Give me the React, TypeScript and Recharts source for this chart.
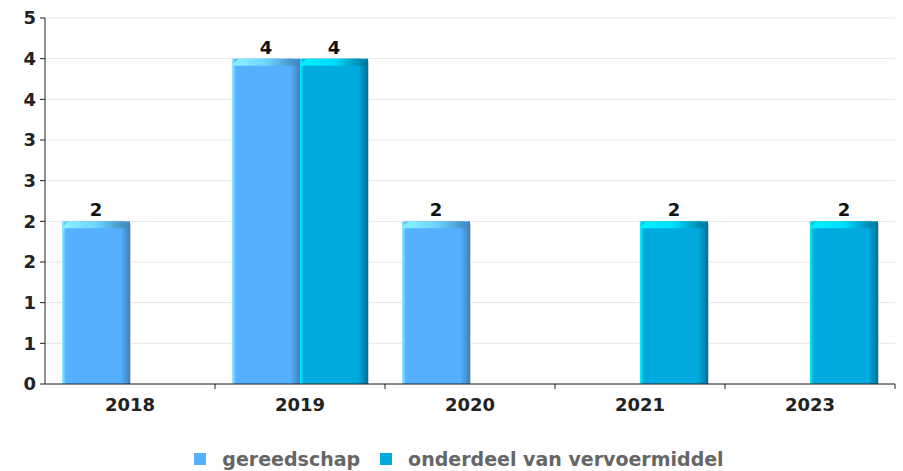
import React from "react";
import {
  BarChart,
  Bar,
  XAxis,
  YAxis,
  CartesianGrid,
  Legend,
  LabelList,
} from "recharts";

const years = ["2018", "2019", "2020", "2021", "2023"];
const gereedschap = [2, 4, 2, null, null];
const onderdeel = [null, 4, null, 2, 2];
const yTicks = [0, 0.5, 1, 1.5, 2, 2.5, 3, 3.5, 4, 4.5];

const data = years.map((year, i) => ({
  year,
  gereedschap: gereedschap[i],
  onderdeel: onderdeel[i],
}));

const FONT = "'DejaVu Sans', sans-serif";

const series = [
  {
    key: "gereedschap",
    name: "gereedschap",
    color: "#55b0ff",
    edge: "#8cf2ff",
    dark: "#3f80b8",
    cap: "#6cd6ff",
  },
  {
    key: "onderdeel",
    name: "onderdeel van vervoermiddel",
    color: "#00aade",
    edge: "#00f2ff",
    dark: "#00709a",
    cap: "#00dcff",
  },
];

// fake 3d bar: horizontal gradient body + bevelled lighter top
const makeShape = (idx: number) => (props: any) => {
  const { x, y, width, height, value } = props;
  if (value == null || !height) return <g />;
  const s = series[idx];
  const c = 5;
  return (
    <g>
      <rect x={x + 1} y={y + 2} width={width} height={height - 2} fill="#cfcfcf" />
      <rect x={x} y={y} width={width} height={height} fill={`url(#grad-${s.key})`} />
      <path
        d={`M${x},${y + c + 2} L${x + c},${y + 1} Q${x + c + 1},${y} ${x + c + 3},${y} L${x + width - c - 3},${y} Q${x + width - c - 1},${y} ${x + width - c},${y + 1} L${x + width},${y + c + 2} Z`}
        fill={`url(#cap-${s.key})`}
      />
    </g>
  );
};

const renderLabel = (props: any) => {
  const { x, y, width, value } = props;
  if (value == null) return null;
  return (
    <text
      x={x + width / 2}
      y={y - 5}
      textAnchor="middle"
      fontFamily={FONT}
      fontWeight="bold"
      fontSize={18}
      fill="#111"
    >
      {value}
    </text>
  );
};

const band = (895 - 45) / years.length;

const XTick = (props: any) => {
  const { x, y, payload } = props;
  return (
    <g>
      <line x1={x + band / 2} y1={y - 8} x2={x + band / 2} y2={y - 3} stroke="#222" />
      <text
        x={x}
        y={y + 19}
        textAnchor="middle"
        fontFamily={FONT}
        fontWeight="bold"
        fontSize={18}
        fill="#222"
      >
        {payload.value}
      </text>
    </g>
  );
};

const renderLegend = () => (
  <div
    style={{
      display: "flex",
      justifyContent: "center",
      alignItems: "center",
      gap: 20,
      height: 24,
      paddingLeft: 23,
      fontFamily: FONT,
      fontWeight: "bold",
      fontSize: 19,
      color: "#666",
    }}
  >
    {series.map((s) => (
      <span key={s.key} style={{ display: "flex", alignItems: "center" }}>
        <span
          style={{
            display: "inline-block",
            width: 12,
            height: 12,
            background: s.color,
            marginRight: 16,
          }}
        />
        {s.name}
      </span>
    ))}
  </div>
);

export default function App() {
  return (
    <div style={{ position: "absolute", left: 0, top: 0, background: "#fff" }}>
      <BarChart
        width={903}
        height={471}
        data={data}
        margin={{ top: 18, right: 8, left: 0, bottom: 0 }}
        barCategoryGap="10%"
        barGap={0}
      >
        <defs>
          {series.map((s) => (
            <React.Fragment key={s.key}>
              <linearGradient id={`grad-${s.key}`} x1="0" y1="0" x2="1" y2="0">
                <stop offset="0%" stopColor={s.edge} />
                <stop offset="6%" stopColor={s.color} />
                <stop offset="86%" stopColor={s.color} />
                <stop offset="100%" stopColor={s.dark} />
              </linearGradient>
              <linearGradient id={`cap-${s.key}`} x1="0" y1="0" x2="1" y2="0">
                <stop offset="0%" stopColor={s.edge} />
                <stop offset="50%" stopColor={s.cap} />
                <stop offset="100%" stopColor={s.dark} />
              </linearGradient>
            </React.Fragment>
          ))}
        </defs>
        <CartesianGrid vertical={false} stroke="#e6e6e6" />
        <XAxis
          dataKey="year"
          height={63}
          tickLine={false}
          axisLine={{ stroke: "#222" }}
          tick={<XTick />}
          interval={0}
        />
        <YAxis
          width={45}
          domain={[0, 4.5]}
          ticks={yTicks}
          interval={0}
          tickSize={5}
          tickMargin={4}
          tickLine={{ stroke: "#222" }}
          axisLine={{ stroke: "#222" }}
          tickFormatter={(v) => String(Math.round(v))}
          tick={{ fontFamily: FONT, fontWeight: "bold", fontSize: 18, fill: "#222" }}
        />
        <Legend verticalAlign="bottom" content={renderLegend} />
        {series.map((s, i) => (
          <Bar
            key={s.key}
            dataKey={s.key}
            name={s.name}
            fill={s.color}
            shape={makeShape(i)}
            isAnimationActive={false}
          >
            <LabelList dataKey={s.key} content={renderLabel} />
          </Bar>
        ))}
      </BarChart>
    </div>
  );
}
